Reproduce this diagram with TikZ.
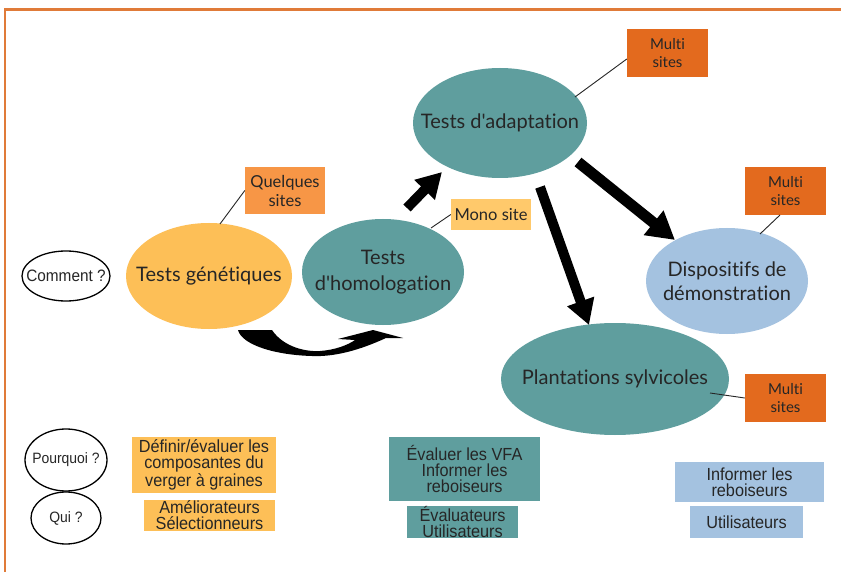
\documentclass[tikz,border=0pt]{standalone}
\usepackage{fontspec}
\newfontfamily\latofont[Ligatures=NoCommon]{Lato}
\newfontfamily\narrowfont[FakeStretch=0.93,Ligatures=NoCommon]{Liberation Sans}
\usetikzlibrary{shapes.geometric,arrows.meta}
\definecolor{teal1}{HTML}{5F9E9E}
\definecolor{orgdark}{HTML}{E36A1E}
\definecolor{orglight}{HTML}{F79646}
\definecolor{yel}{HTML}{FDBF57}
\definecolor{yel2}{HTML}{FFC96B}
\definecolor{lblue}{HTML}{A4C2E0}
\definecolor{frame}{HTML}{E07B39}
\begin{document}
\begin{tikzpicture}[x=1pt,y=-1pt,
  ell/.style={ellipse,inner sep=0pt},
  etext/.style={inner sep=0pt,align=center,text=black!85,font=\latofont\fontsize{20}{#1}\selectfont},
  etext/.default=24,
  qbub/.style={ellipse,draw=black,line width=1.3pt,fill=white,inner sep=0pt},
  qtext/.style={inner sep=0pt,text=black!85,font=\narrowfont\fontsize{#1}{19}\selectfont},
  qtext/.default=15,
  tag/.style={inner sep=0pt,align=center,text=black!85,font=\latofont\fontsize{16.5}{19}\selectfont},
  mtag/.style={inner sep=0pt,align=center,text=black!85,fill=orgdark,minimum width=81pt,minimum height=48pt,font=\latofont\fontsize{15}{18.5}\selectfont},
  btag/.style={inner sep=0pt,align=center,text=black!85,font=\narrowfont\fontsize{17.5}{16.2}\selectfont},
  thin/.style={line width=0.9pt,black!85},
  bigarrow/.style={line width=#1, -{Triangle[length=#1*2.5,width=#1*2.7]}},
]
\useasboundingbox (0,0) rectangle (841,572);
\fill[white] (0,0) rectangle (841,572);
\draw[frame,line width=2.2pt] (5,572) -- (5,9.5) -- (845,9.5);

% main ellipses
\node[ell,fill=yel,minimum width=166pt,minimum height=106pt] (gen) at (209,276) {};
\node[etext] at (gen.center) {Tests génétiques};
\node[ell,fill=teal1,minimum width=162pt,minimum height=106pt] (hom) at (383,272) {};
\node[etext=26] at (hom.center) {Tests\\d'homologation};
\node[ell,fill=teal1,minimum width=174pt,minimum height=110pt] (ada) at (500,123) {};
\node[etext] at (ada.center) {Tests d'adaptation};
\node[ell,fill=lblue,minimum width=162pt,minimum height=106pt] (dem) at (727,281) {};
\node[etext=24.5] at (dem.center) {Dispositifs de\\démonstration};
\node[ell,fill=teal1,minimum width=228pt,minimum height=112pt] (pla) at (615,379) {};
\node[etext] at (pla.center) {Plantations sylvicoles};

% question bubbles
\node[qbub,minimum width=88pt,minimum height=50pt] (comment) at (66,276) {};
\node[qtext=16.5] at (comment.center) {Comment ?};
\node[qbub,minimum width=82pt,minimum height=62pt] (pourquoi) at (66,460) {};
\node[qtext] at (pourquoi.center) {Pourquoi ?};
\node[qbub,minimum width=70pt,minimum height=52pt] (qui) at (66,518) {};
\node[qtext] at (qui.center) {Qui ?};

% tags
\node[tag,fill=orglight,minimum width=80pt,minimum height=47pt] (quel) at (285,190.5) {Quelques\\sites};
\node[tag,fill=yel2,minimum width=80pt,minimum height=31pt] (mono) at (491,214.5) {Mono site};
\node[mtag] (ms1) at (667.5,53) {Multi\\sites};
\node[mtag] (ms2) at (785.5,191) {Multi\\sites};
\node[mtag] (ms3) at (785.5,398) {Multi\\sites};

\coordinate (q1) at (220,224);
\coordinate (q2) at (431,228);
\coordinate (q3) at (575,97);
\coordinate (q4) at (760,234);
\coordinate (q4b) at (780,215);
\coordinate (q5) at (710,393);
\draw[thin] (q1) -- (quel.west);
\draw[thin] (q2) -- (mono.west);
\draw[thin] (q3) -- ([yshift=-6pt]ms1.west);
\draw[thin] (q4) -- (q4b);
\draw[thin] (q5) -- (ms3.west);

% arrows
\coordinate (a1s) at (407,208);
\coordinate (a1e) at (442,172);
\draw[bigarrow=10pt] (a1s) -- (a1e);
\coordinate (a2s) at (578,162);
\coordinate (a2e) at (675,240);
\draw[bigarrow=11pt] (a2s) -- (a2e);
\coordinate (a3s) at (540,187);
\coordinate (a3e) at (589,325);
\draw[bigarrow=10pt] (a3s) -- (a3e);

% curved arrow
\fill[black] (238,330) -- (272,330)
  .. controls (282,345) and (302,352) .. (320,351)
  .. controls (335,350) and (348,345) .. (355,340)
  -- (338,339) -- (373,330) -- (403,338) -- (386,338)
  .. controls (360,350) and (335,357) .. (312,356)
  .. controls (275,355) and (242,345) .. (238,330) -- cycle;

% bottom boxes
\node[btag,fill=yel,minimum width=144pt,minimum height=56pt] (def) at (204,465) {Définir/évaluer les\\composantes du\\verger à graines};
\node[btag,fill=yel,minimum width=131pt,minimum height=31pt] (amel) at (209.5,515.5) {Améliorateurs\\Sélectionneurs};
\node[btag,fill=teal1,minimum width=151pt,minimum height=64pt] (vfa) at (464.5,469) {Évaluer les VFA\\Informer les\\reboiseurs};
\node[btag,fill=teal1,minimum width=111pt,minimum height=32pt] (eval) at (462.5,522) {Évaluateurs\\Utilisateurs};
\node[btag,fill=lblue,minimum width=149pt,minimum height=40pt] (inf) at (749.5,482) {Informer les\\reboiseurs};
\node[btag,fill=lblue,minimum width=113pt,minimum height=32pt] (uti) at (746.5,522) {Utilisateurs};
\end{tikzpicture}
\end{document}
